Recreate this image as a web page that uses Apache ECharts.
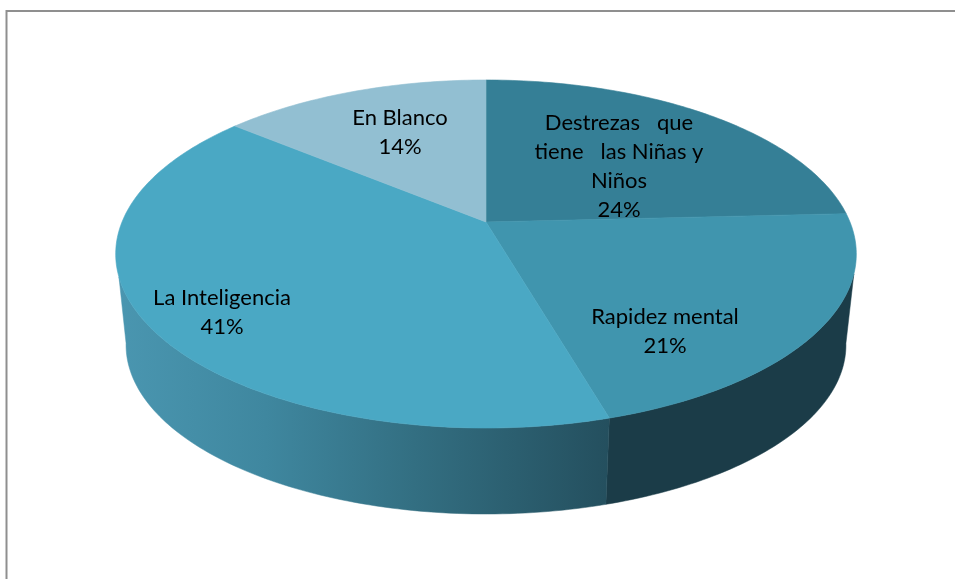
<!DOCTYPE html>
<html>
<head>
<meta charset="utf-8">
<title>Pie</title>
<script src="https://cdn.jsdelivr.net/npm/echarts@6/dist/echarts.min.js"></script>
<style>
  html, body { margin: 0; padding: 0; background: #fff; }
  #chart1 { width: 955px; height: 579px; }
</style>
</head>
<body>
<div id="chart1"></div>
<script>
  var categories = ['Destrezas   que\ntiene   las Niñas y\nNiños', 'Rapidez mental', 'La Inteligencia', 'En Blanco'];
  var shares = [24.2, 21.3, 40.5, 14];

  var topColors = ['#357f96', '#4095ae', '#4aa8c4', '#92bfd2'];
  var labelCenters = [[619, 166], [665, 331], [222, 312], [400, 132]];

  // perspective of the disc, the apex does not sit in the middle of the ellipse
  var discX = 486, discApex = 222, discRadius = 364, discA = 127.3, discC = -0.1839;
  // where the wall silhouette leaves the upper and lower rim (degrees from top, clockwise)
  var upperLimits = [107, 252], lowerLimits = [100, 260];

  const project = deg => {
    let rad = deg * Math.PI / 180;
    let u = Math.sin(rad), v = -Math.cos(rad);
    let w = 1 + discC * v;
    return [discX + discRadius * u / w, (discA * v + discApex) / w];
  };
  // lower rim of the wall
  const lower = p => [discX + (p[0] - discX) * 0.972, 514 + (p[1] - 428) * 0.971];

  const total = shares.reduce((a, b) => a + b, 0);
  const angleRange = idx => {
    let before = shares.slice(0, idx).reduce((a, b) => a + b, 0);
    return [before / total * 360, (before + shares[idx]) / total * 360];
  };
  const arc = (from, to) => {
    let pts = [];
    for (let a = from; a < to; a += 1) pts.push(project(a));
    pts.push(project(to));
    return pts;
  };

  const wallFill = idx => {
    if (idx === 2) {
      return new echarts.graphic.LinearGradient(118, 0, 610, 0, [
        { offset: 0, color: '#4a96b0' },
        { offset: 0.3, color: '#3f879f' },
        { offset: 0.6, color: '#336f82' },
        { offset: 1, color: '#244f5e' }
      ], true);
    }
    return '#1b3c48';
  };

  const getPie = chartId => {
    let myChart = echarts.init(document.getElementById(chartId));
    let option;

    option = {
      animation: false,
      backgroundColor: '#ffffff',
      graphic: [
        {
          type: 'polyline',
          shape: { points: [[6.5, 579], [6.5, 11], [955, 11]] },
          style: { stroke: '#8f8f8f', lineWidth: 2, fill: null },
          silent: true
        }
      ],
      series: [
        {
          // side wall, only the slices on the near side have one
          type: 'custom',
          coordinateSystem: 'none',
          silent: true,
          z: 1,
          data: shares,
          renderItem: (params, api) => {
            let r = angleRange(params.dataIndex);
            let topFrom = Math.max(r[0], upperLimits[0]), topTo = Math.min(r[1], upperLimits[1]);
            let lowFrom = Math.max(r[0], lowerLimits[0]), lowTo = Math.min(r[1], lowerLimits[1]);
            if (topFrom >= topTo || lowFrom >= lowTo) return null;
            let fill = wallFill(params.dataIndex);
            return {
              type: 'polygon',
              shape: { points: arc(topFrom, topTo).concat(arc(lowFrom, lowTo).map(lower).reverse()) },
              style: { fill: fill, stroke: fill, lineWidth: 0.5 }
            };
          }
        },
        {
          // top of the disc
          type: 'custom',
          coordinateSystem: 'none',
          silent: true,
          z: 2,
          data: shares,
          renderItem: (params, api) => {
            let r = angleRange(params.dataIndex);
            let pts = arc(r[0], r[1]);
            pts.unshift([discX, discApex]);
            return {
              type: 'polygon',
              shape: { points: pts },
              style: { fill: topColors[params.dataIndex], stroke: topColors[params.dataIndex], lineWidth: 0.6 }
            };
          }
        },
        {
          // labels
          type: 'custom',
          coordinateSystem: 'none',
          silent: true,
          z: 3,
          data: shares,
          renderItem: (params, api) => {
            let i = params.dataIndex;
            return {
              type: 'text',
              x: labelCenters[i][0],
              y: labelCenters[i][1],
              style: {
                text: categories[i] + '\n' + Math.round(shares[i]) + '%',
                fontFamily: 'Lato',
                fontSize: 22,
                lineHeight: 29,
                fill: '#000000',
                align: 'center',
                verticalAlign: 'middle'
              }
            };
          }
        }
      ]
    };

    option && myChart.setOption(option);
  };

  getPie('chart1');
</script>
</body>
</html>
